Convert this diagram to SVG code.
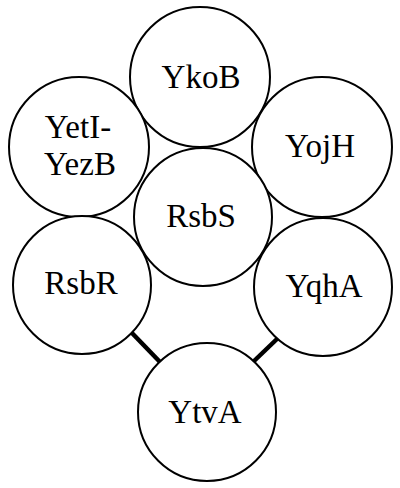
<svg xmlns="http://www.w3.org/2000/svg" width="400" height="488" viewBox="0 0 400 488">
<style>
.n circle{fill:#fff;stroke:#000;stroke-width:2}
.n text{font-family:"Liberation Serif","DejaVu Serif",serif;font-size:33px;text-anchor:middle;fill:#000}
.c line{stroke:#000;stroke-width:4.5}
</style>
<rect width="400" height="488" fill="#fff"/>
<g class="c" id="connectors">
<line x1="131" y1="332" x2="160" y2="362"/>
<line x1="278" y1="338" x2="253" y2="362"/>
</g>
<g class="n" id="YkoB"><circle cx="200" cy="77" r="70"/><text x="201" y="88">YkoB</text></g>
<g class="n" id="YetI-YezB"><circle cx="79" cy="147" r="70"/><text x="78" y="138">YetI-</text><text x="80" y="175">YezB</text></g>
<g class="n" id="YojH"><circle cx="322" cy="147" r="70"/><text x="320" y="157">YojH</text></g>
<g class="n" id="RsbS"><circle cx="203" cy="217" r="69"/><text x="201" y="227">RsbS</text></g>
<g class="n" id="RsbR"><circle cx="82" cy="285" r="69"/><text x="81" y="294">RsbR</text></g>
<g class="n" id="YqhA"><circle cx="323" cy="287" r="69"/><text x="324" y="297">YqhA</text></g>
<g class="n" id="YtvA"><circle cx="207" cy="412" r="69"/><text x="205" y="423">YtvA</text></g>
</svg>
